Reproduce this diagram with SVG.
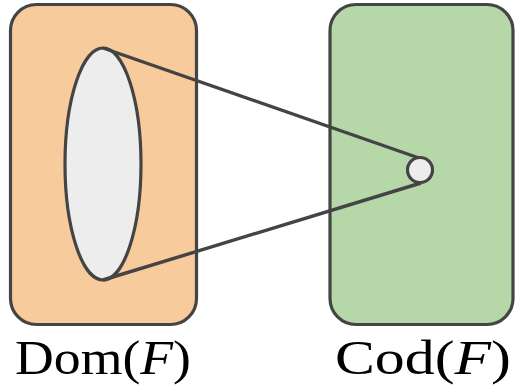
<svg xmlns="http://www.w3.org/2000/svg" width="516" height="390" viewBox="0 0 516 390">
<style>
.box{stroke:#444;stroke-width:3.2}
.lbl{font-family:"Liberation Serif","DejaVu Serif",serif;font-size:49px;fill:#000}
.conn{stroke:#444;stroke-width:3.4;fill:none}
</style>
<rect width="516" height="390" fill="#fff"/>
<g id="dom">
<rect class="box" x="10.5" y="4.5" width="186" height="320" rx="26" fill="#F8CB9C"/>
<text class="lbl" x="103" y="374" text-anchor="middle" textLength="176" lengthAdjust="spacingAndGlyphs">Dom(<tspan font-style="italic">F</tspan>)</text>
</g>
<g id="cod">
<rect class="box" x="330" y="4.5" width="183" height="320" rx="26" fill="#B6D7A8"/>
<text class="lbl" x="423" y="374" text-anchor="middle" textLength="176" lengthAdjust="spacingAndGlyphs">Cod(<tspan font-style="italic">F</tspan>)</text>
</g>
<g id="set">
<ellipse class="box" cx="103" cy="164" rx="38" ry="116" fill="#EDEDED"/>
</g>
<g id="connectors">
<line class="conn" x1="103" y1="48" x2="419" y2="158"/>
<line class="conn" x1="103" y1="280" x2="421" y2="183"/>
</g>
<g id="point">
<circle class="box" cx="420" cy="170" r="12.5" fill="#EDEDED"/>
</g>
</svg>
